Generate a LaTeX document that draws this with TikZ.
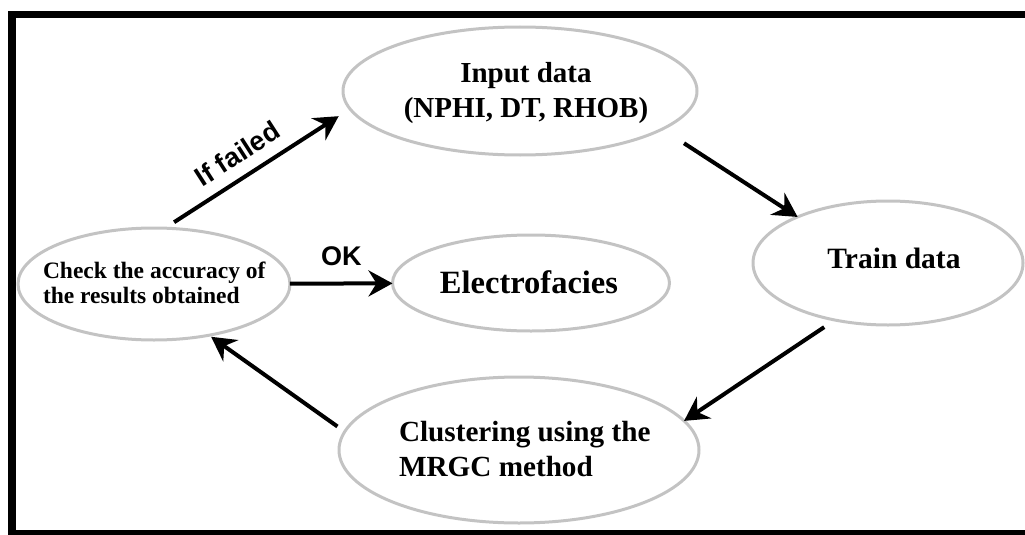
\documentclass[tikz,border=0pt]{standalone}
\usepackage{fontspec}
\setmainfont{Liberation Serif}
\newfontfamily\sansb{Liberation Sans}
\usetikzlibrary{shapes.geometric,arrows.meta}
\definecolor{ellgray}{HTML}{C3C3C3}
\begin{document}
\begin{tikzpicture}[x=1pt,y=-1pt,
  ell/.style={draw=ellgray,line width=3pt,ellipse,inner sep=0pt,outer sep=0pt},
  txt/.style={inner sep=0pt,outer sep=0pt,text=black},
  arr/.style={line width=4pt,-{Stealth[length=24pt,width=26pt,inset=8pt]}},
  lab/.style={font=\sansb\bfseries\fontsize{27}{30}\selectfont,inner sep=0pt}]
\useasboundingbox (0,0) rectangle (1025,535);
\clip (0,0) rectangle (1025,535);
\draw[line width=7.5pt,line join=miter] (1040,14.5) -- (12,14.5) -- (12,533.5) -- (1040,533.5);

% ellipses
\node[ell,minimum width=354pt,minimum height=128pt] (input) at (520,91) {};
\node[ell,minimum width=270pt,minimum height=124pt] (train) at (888,263) {};
\node[ell,minimum width=277pt,minimum height=96pt] (electro) at (531,283) {};
\node[ell,minimum width=272pt,minimum height=112pt] (check) at (154,284) {};
\node[ell,minimum width=360pt,minimum height=146pt] (clust) at (519,450) {};

% texts
\node[txt,align=center,font=\bfseries\fontsize{29}{35}\selectfont] (inputT) at (526,93.5) {Input data\\(NPHI, DT, RHOB)};
\node[txt,anchor=base,font=\bfseries\fontsize{29.5}{34}\selectfont] (trainT) at (894,268) {Train data};
\node[txt,anchor=base,font=\bfseries\fontsize{32.5}{36}\selectfont] (electroT) at (529,293) {Electrofacies};
\node[txt,anchor=west,align=left,font=\bfseries\fontsize{23.5}{25}\selectfont] (checkT) at (43,282.5) {Check the accuracy of\\the results obtained};
\node[txt,anchor=west,align=left,font=\bfseries\fontsize{29.2}{35}\selectfont] (clustT) at (399,449.5) {Clustering using the\\MRGC method};

% connectors
\draw[arr,shorten <=11pt,shorten >=13.5pt] (check.79.9) -- node[lab,sloped,pos=0.46,above=11.7pt] (failL) {If failed} (input.186.7);
\draw[arr] (check) -- node[lab,above=16pt] (okL) {OK} (electro);
\draw[arr,shorten <=26pt] (input.-15.5) -- (train.153.7);
\draw[arr,shorten <=12.8pt] (train.227.6) -- (clust.10.6);
\draw[arr,shorten <=9pt,shorten >=2.7pt] (clust.174.2) -- (check.-43.7);
\end{tikzpicture}
\end{document}
